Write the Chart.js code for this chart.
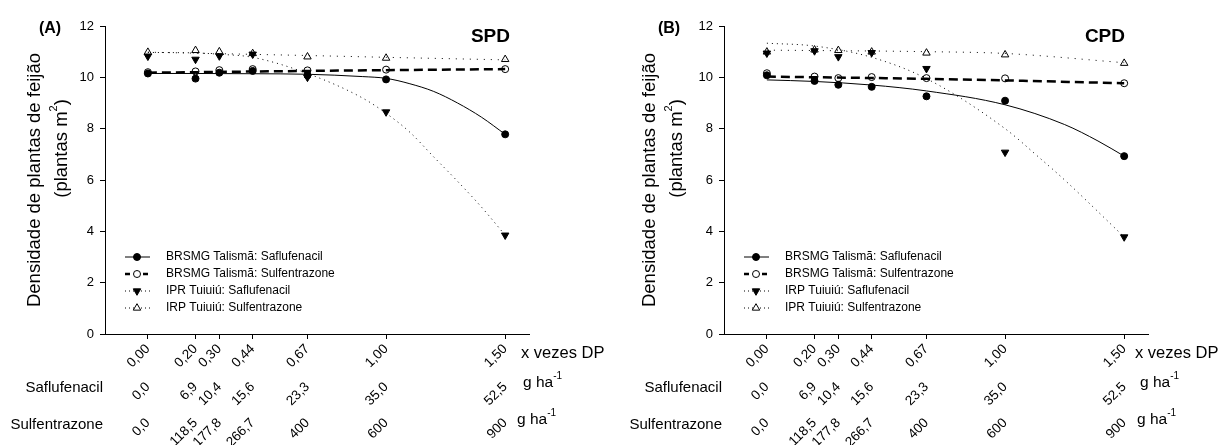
<!DOCTYPE html>
<html>
<head>
<meta charset="utf-8">
<script src="https://cdn.jsdelivr.net/npm/chart.js@4.4.1/dist/chart.umd.min.js"></script>
<style>
  body { margin: 0; background: #fff; }
  .panel { position: absolute; top: 0; height: 445px; }
</style>
</head>
<body>
<div class="panel" style="left:0;width:614px"><canvas id="chartA" width="614" height="445"></canvas></div>
<div class="panel" style="left:614px;width:613px"><canvas id="chartB" width="613" height="445"></canvas></div>
<script>
// doses as fraction of the recommended dose (DP) and the three label rows
const doseDP = [0, 0.2, 0.3, 0.44, 0.67, 1.0, 1.5];
const labelsDP = ['0,00', '0,20', '0,30', '0,44', '0,67', '1,00', '1,50'];
const labelsSaf = ['0,0', '6,9', '10,4', '15,6', '23,3', '35,0', '52,5'];
const labelsSul = ['0,0', '118,5', '177,8', '266,7', '400', '600', '900'];

// (A) SPD - observed values
const a_talSaf = [10.15, 9.95, 10.18, 10.25, 10.08, 9.92, 7.78];
const a_talSul = [10.2, 10.23, 10.28, 10.32, 10.27, 10.3, 10.32];
const a_tuiSaf = [10.82, 10.7, 10.83, 10.9, 10.0, 8.65, 3.85];
const a_tuiSul = [10.98, 11.05, 11.0, 10.93, 10.8, 10.75, 10.7];

// (A) SPD - fitted curves
const a_fitTalSafX = [0, 0.2, 0.44, 0.67, 0.9, 1.0, 1.1, 1.2, 1.3, 1.4, 1.5];
const a_fitTalSafY = [10.15, 10.15, 10.14, 10.12, 10.03, 9.96, 9.75, 9.45, 9.0, 8.45, 7.78];
const a_fitTalSulX = [0, 0.67, 1.0, 1.5];
const a_fitTalSulY = [10.18, 10.25, 10.28, 10.32];
const a_fitTuiSafX = [0, 0.2, 0.3, 0.44, 0.67, 0.9, 1.0, 1.1, 1.2, 1.3, 1.4, 1.5];
const a_fitTuiSafY = [10.97, 10.95, 10.9, 10.78, 10.15, 9.2, 8.6, 7.86, 6.9, 5.95, 4.95, 3.85];
const a_fitTuiSulX = [0, 0.67, 1.0, 1.5];
const a_fitTuiSulY = [10.98, 10.85, 10.78, 10.68];

// (B) CPD - observed values
const b_talSaf = [10.08, 9.86, 9.71, 9.63, 9.26, 9.09, 6.93];
const b_talSul = [10.16, 10.03, 9.97, 10.01, 9.97, 9.96, 9.77];
const b_tuiSaf = [10.94, 11.03, 10.8, 10.96, 10.34, 7.08, 3.78];
const b_tuiSul = [10.99, 11.07, 11.05, 10.99, 10.95, 10.88, 10.55];

// (B) CPD - fitted curves
const b_fitTalSafX = [0, 0.2, 0.44, 0.67, 1.0, 1.25, 1.39, 1.5];
const b_fitTalSafY = [9.9, 9.84, 9.7, 9.47, 8.93, 8.16, 7.52, 6.93];
const b_fitTalSulX = [0, 0.67, 1.0, 1.5];
const b_fitTalSulY = [10.03, 9.94, 9.88, 9.77];
const b_fitTuiSafX = [0, 0.2, 0.44, 0.67, 1.0, 1.14, 1.25, 1.5];
const b_fitTuiSafY = [11.33, 11.22, 10.78, 9.95, 8.0, 6.9, 6.0, 3.78];
const b_fitTuiSulX = [0, 0.67, 1.0, 1.5];
const b_fitTuiSulY = [11.06, 11.0, 10.93, 10.57];

const legendA = ['BRSMG Talismã: Saflufenacil', 'BRSMG Talismã: Sulfentrazone', 'IPR Tuiuiú: Saflufenacil', 'IRP Tuiuiú: Sulfentrazone'];
const legendB = ['BRSMG Talismã: Saflufenacil', 'BRSMG Talismã: Sulfentrazone', 'IRP Tuiuiú: Saflufenacil', 'IPR Tuiuiú: Sulfentrazone'];

const FONT = '"Liberation Sans", Arial, sans-serif';
Chart.defaults.font.family = FONT;
Chart.defaults.color = '#000';

// marker + line style per treatment
const styles = [
    { pointStyle: 'circle', radius: 3.5, rotation: 0, fill: '#000', width: 1, dash: [] },
    { pointStyle: 'circle', radius: 3.5, rotation: 0, fill: '#fff', width: 2.5, dash: [9, 5] },
    { pointStyle: 'triangle', radius: 4.3, rotation: 180, fill: '#000', width: 1, dash: [1, 4] },
    { pointStyle: 'triangle', radius: 4.3, rotation: 0, fill: '#fff', width: 1, dash: [1, 6] }
];

function toXY(xs, ys) {
    return xs.map((x, i) => ({ x: x, y: ys[i] }));
}

function pointSet(ys, s) {
    return {
        data: toXY(doseDP, ys),
        showLine: false,
        pointStyle: s.pointStyle,
        pointRotation: s.rotation,
        pointRadius: s.radius,
        pointBackgroundColor: s.fill,
        pointBorderColor: '#000',
        pointBorderWidth: 1
    };
}

function fitSet(xs, ys, s) {
    return {
        data: toXY(xs, ys),
        borderColor: '#000',
        borderWidth: s.width,
        borderDash: s.dash,
        pointRadius: 0,
        cubicInterpolationMode: 'monotone',
        fill: false
    };
}

function drawSup(ctx, parts, x, y, size) {
    // parts: [text, superscript] pairs drawn left to right
    let cx = x;
    parts.forEach(p => {
        ctx.font = size + 'px ' + FONT;
        ctx.fillText(p[0], cx, y);
        cx += ctx.measureText(p[0]).width;
        if (p[1]) {
            ctx.font = Math.round(size * 0.62) + 'px ' + FONT;
            ctx.fillText(p[1], cx, y - size * 0.42);
            cx += ctx.measureText(p[1]).width;
        }
    });
    return cx - x;
}

const panelText = {
    id: 'panelText',
    afterDraw(chart, args, opts) {
        const ctx = chart.ctx;
        const ca = chart.chartArea;
        ctx.save();
        ctx.fillStyle = '#000';
        ctx.strokeStyle = '#000';

        // panel letter and system name
        ctx.font = 'bold 16px ' + FONT;
        ctx.textAlign = 'center';
        ctx.textBaseline = 'alphabetic';
        ctx.fillText(opts.letter, opts.letterX, 33);
        ctx.font = 'bold 19px ' + FONT;
        ctx.textAlign = 'right';
        ctx.fillText(opts.name, opts.nameX, 42);

        // y axis title, two lines
        ctx.save();
        ctx.translate(opts.titleX, 180);
        ctx.rotate(-Math.PI / 2);
        ctx.textAlign = 'center';
        ctx.textBaseline = 'middle';
        ctx.font = '18.5px ' + FONT;
        ctx.fillText('Densidade de plantas de feijão', 0, 0);
        ctx.restore();
        ctx.save();
        ctx.translate(opts.titleX + 27, 148);
        ctx.rotate(-Math.PI / 2);
        ctx.textAlign = 'left';
        ctx.textBaseline = 'middle';
        ctx.font = '18.5px ' + FONT;
        const w = ctx.measureText('(plantas m').width + ctx.measureText(')').width + 7;
        drawSup(ctx, [['(plantas m', '2'], [')', null]], -w / 2, 0, 18.5);
        ctx.restore();

        // row names left of the dose rows
        ctx.font = '15px ' + FONT;
        ctx.textAlign = 'right';
        ctx.textBaseline = 'middle';
        ctx.fillText('Saflufenacil', ca.left - 2, 388);
        ctx.fillText('Sulfentrazone', ca.left - 2, 425);

        // units at the right of the dose rows
        ctx.textAlign = 'left';
        ctx.textBaseline = 'middle';
        ctx.font = '16.5px ' + FONT;
        ctx.fillText('x vezes DP', opts.unitX[0], 353);
        drawSup(ctx, [['g ha', '-1']], opts.unitX[1], 383, 15.5);
        drawSup(ctx, [['g ha', '-1']], opts.unitX[2], 420, 15.5);

        // legend inside the plot, bottom left
        opts.legend.forEach((txt, i) => {
            const s = styles[i];
            const y = ca.bottom - 77 + i * 17;
            const x0 = ca.left + 20;
            ctx.save();
            ctx.lineWidth = s.width;
            ctx.setLineDash(s.pointStyle === 'circle' && s.width > 1 ? [5, 4] : s.dash.length ? [1, 3] : []);
            ctx.beginPath();
            ctx.moveTo(x0, y);
            ctx.lineTo(x0 + 25, y);
            ctx.stroke();
            ctx.restore();
            ctx.save();
            ctx.fillStyle = s.fill;
            ctx.lineWidth = 1;
            Chart.helpers.drawPoint(ctx, { pointStyle: s.pointStyle, radius: s.radius, rotation: s.rotation, borderWidth: 1 }, x0 + 12, y);
            ctx.restore();
            ctx.font = '12px ' + FONT;
            ctx.fillStyle = '#000';
            ctx.textAlign = 'left';
            ctx.textBaseline = 'middle';
            ctx.fillText(txt, ca.left + 61, y);
        });
        ctx.restore();
    }
};

function doseAxis(labels, weight, height, withLine) {
    return {
        type: 'linear',
        axis: 'x',
        position: 'bottom',
        min: -0.18,
        max: 1.6,
        weight: weight,
        grid: { display: withLine, drawOnChartArea: false, drawTicks: true, tickLength: 5, color: '#000' },
        border: { display: withLine, color: '#000', width: 1 },
        ticks: {
            autoSkip: false,
            minRotation: 45,
            maxRotation: 45,
            padding: 2,
            font: { size: 13.5 },
            callback: (v, i) => labels[i]
        },
        afterBuildTicks: scale => { scale.ticks = doseDP.map(v => ({ value: v })); },
        afterFit: scale => { scale.height = height; }
    };
}

function makeChart(canvasId, obs, fits, cfg) {
    const datasets = [];
    fits.forEach((f, i) => datasets.push(fitSet(f[0], f[1], styles[i])));
    obs.forEach((ys, i) => datasets.push(pointSet(ys, styles[i])));
    new Chart(document.getElementById(canvasId), {
        type: 'line',
        data: { datasets: datasets },
        plugins: [panelText],
        options: {
            responsive: false,
            animation: false,
            layout: { padding: { left: 0, top: 26, right: cfg.padRight, bottom: 0 } },
            plugins: {
                legend: { display: false },
                tooltip: { enabled: false },
                panelText: cfg.text
            },
            scales: {
                x: doseAxis(labelsDP, 0, 38, true),
                x2: doseAxis(labelsSaf, 1, 36, false),
                x3: doseAxis(labelsSul, 2, 37, false),
                y: {
                    min: 0,
                    max: 12,
                    ticks: { stepSize: 2, padding: 6, font: { size: 13 } },
                    grid: { drawOnChartArea: false, tickLength: 5, color: '#000' },
                    border: { color: '#000', width: 1 },
                    afterFit: scale => { scale.width = cfg.yWidth; }
                }
            }
        }
    });
}

makeChart('chartA',
    [a_talSaf, a_talSul, a_tuiSaf, a_tuiSul],
    [[a_fitTalSafX, a_fitTalSafY], [a_fitTalSulX, a_fitTalSulY], [a_fitTuiSafX, a_fitTuiSafY], [a_fitTuiSulX, a_fitTuiSulY]],
    { padRight: 85, yWidth: 105,
      text: { letter: '(A)', letterX: 50, name: 'SPD', nameX: 510, titleX: 35, unitX: [521, 523, 517], legend: legendA } });

makeChart('chartB',
    [b_talSaf, b_talSul, b_tuiSaf, b_tuiSul],
    [[b_fitTalSafX, b_fitTalSafY], [b_fitTalSulX, b_fitTalSulY], [b_fitTuiSafX, b_fitTuiSafY], [b_fitTuiSulX, b_fitTuiSulY]],
    { padRight: 79, yWidth: 110,
      text: { letter: '(B)', letterX: 55, name: 'CPD', nameX: 511, titleX: 36, unitX: [521, 526, 523], legend: legendB } });
</script>
</body>
</html>
